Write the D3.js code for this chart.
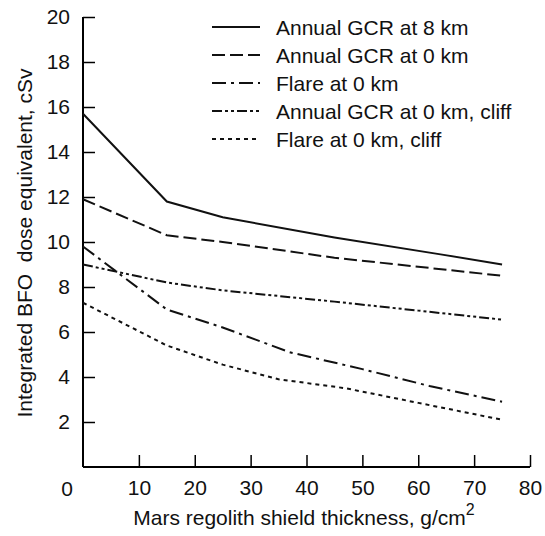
<!DOCTYPE html>
<html><head><meta charset="utf-8">
<script src="https://cdn.jsdelivr.net/npm/d3@7"></script>
<style>
body{margin:0;background:#fff;}
svg text{font-family:"Liberation Sans",Arial,Helvetica,sans-serif;fill:#111;}
</style></head>
<body><svg id="c" width="545" height="536"></svg>
<script>
const seriesNames = ["Annual GCR at 8 km","Annual GCR at 0 km","Flare at 0 km","Annual GCR at 0 km, cliff","Flare at 0 km, cliff"];
const gcr8 = [[0,15.7],[15,11.8],[25,11.1],[45,10.2],[64,9.45],[75,9.0]];
const gcr0 = [[0,11.9],[15,10.3],[25,10.0],[45,9.3],[75,8.5]];
const flare0 = [[0,9.8],[15,7.0],[25,6.2],[37,5.1],[50,4.35],[62,3.6],[75,2.9]];
const gcr0cliff = [[0,9.0],[15,8.2],[25,7.85],[45,7.35],[60,6.95],[75,6.55]];
const flare0cliff = [[0,7.3],[15,5.4],[25,4.55],[35,3.9],[47,3.5],[60,2.85],[75,2.1]];
const xTicks = [10,20,30,40,50,60,70,80];
const yTicks = [2,4,6,8,10,12,14,16,18,20];
const dashes = ["none","13,5","14,5,3,5","10,3,3,3,3,3","4,4"];

const svg = d3.select("#c");
const x = d3.scaleLinear().domain([0,80]).range([83,530]);
const y = d3.scaleLinear().domain([0,20]).range([467,17]);
const fs = 21;

// axes
svg.append("g").attr("transform","translate(0,467)")
  .call(d3.axisBottom(x).tickValues(xTicks).tickSize(-12).tickPadding(20).tickFormat(d3.format("d")))
  .call(g=>{g.select(".domain").attr("stroke-width",2).attr("d","M83,0H530");
    g.selectAll(".tick line").attr("stroke-width",1.5);
    g.selectAll("text").attr("font-size",fs).attr("font-family","Liberation Sans, Arial, sans-serif").attr("dy","0.4em");});
svg.append("g").attr("transform","translate(83,0)")
  .call(d3.axisLeft(y).tickValues(yTicks).tickSize(-12).tickPadding(13).tickFormat(d3.format("d")))
  .call(g=>{g.select(".domain").attr("stroke-width",2).attr("d","M0,17V467");
    g.selectAll(".tick line").attr("stroke-width",1.5);
    g.selectAll("text").attr("font-size",fs).attr("font-family","Liberation Sans, Arial, sans-serif");});
// origin label
svg.append("text").attr("x",67).attr("y",496).attr("text-anchor","middle").attr("font-size",fs).text("0");

// lines
const line = d3.line().x(d=>x(d[0])).y(d=>y(d[1]));
const data = [gcr8,gcr0,flare0,gcr0cliff,flare0cliff];
data.forEach((s,i)=>{
  svg.append("path").datum(s).attr("d",line).attr("fill","none").attr("stroke","#111")
    .attr("stroke-width",2).attr("stroke-dasharray",dashes[i]);
});

// legend
seriesNames.forEach((n,i)=>{
  const yy = 27 + i*28;
  svg.append("line").attr("x1",212).attr("x2",260).attr("y1",yy).attr("y2",yy)
    .attr("stroke","#111").attr("stroke-width",2).attr("stroke-dasharray",dashes[i]);
  svg.append("text").attr("x",276).attr("y",yy+8).attr("font-size",fs).text(n);
});

// axis titles
const xt = svg.append("text").attr("x",304).attr("y",525).attr("text-anchor","middle").attr("font-size",fs);
xt.append("tspan").text("Mars regolith shield thickness, g/cm");
xt.append("tspan").attr("dy",-10).attr("font-size",16).text("2");
svg.append("text").attr("transform","translate(32,243) rotate(-90)").attr("text-anchor","middle")
  .attr("font-size",fs).attr("xml:space","preserve").style("white-space","pre").text("Integrated BFO  dose equivalent, cSv");
</script></body></html>
